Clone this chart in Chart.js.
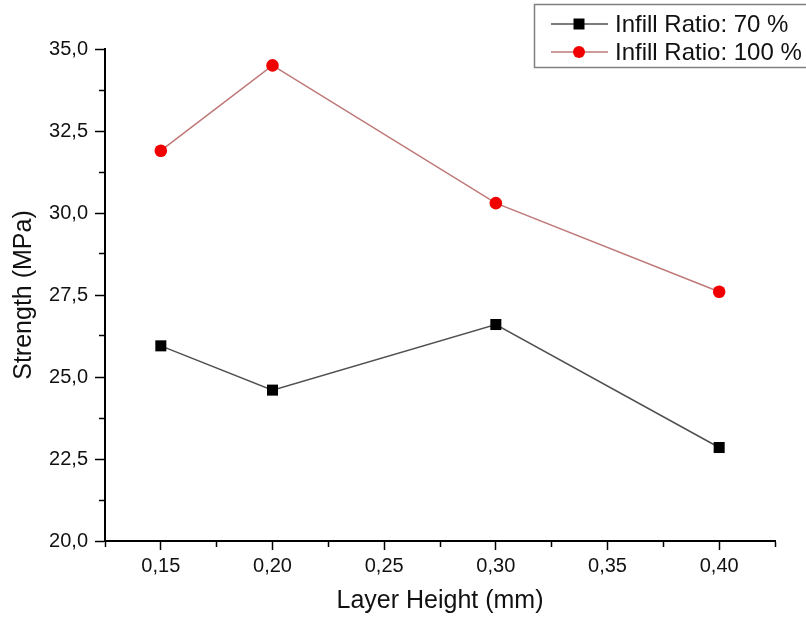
<!DOCTYPE html>
<html>
<head>
<meta charset="utf-8">
<script src="https://cdn.jsdelivr.net/npm/chart.js@4"></script>
<style>
  body { margin: 0; background: #fff; }
  #wrap { width: 806px; height: 619px; }
</style>
</head>
<body>
<div id="wrap"><canvas id="strengthChart" width="806" height="619"></canvas></div>
<script>
// valores
const layerHeights = [0.15, 0.20, 0.30, 0.40];
const infill70 = [25.95, 24.6, 26.6, 22.85];
const infill100 = [31.9, 34.5, 30.3, 27.6];
const seriesLabels = ['Infill Ratio: 70 %', 'Infill Ratio: 100 %'];
const xTickLabels = ['0,15', '0,20', '0,25', '0,30', '0,35', '0,40'];
const yTickLabels = ['20,0', '22,5', '25,0', '27,5', '30,0', '32,5', '35,0'];

const FONT = '"Liberation Sans", Arial, sans-serif';

function toPoints(values) {
    return values.map((v, i) => ({ x: layerHeights[i], y: v }));
}

function isMajor(value, step) {
    return Math.abs(value / step - Math.round(value / step)) < 1e-6;
}

// leyenda con recuadro, como en Origin
const boxLegend = {
    id: 'boxLegend',
    afterDraw(chart) {
        const ctx = chart.ctx;
        ctx.save();
        ctx.strokeStyle = '#808080';
        ctx.lineWidth = 1.5;
        ctx.strokeRect(534.5, 4.5, 290, 63);
        chart.data.datasets.forEach((ds, i) => {
            const y = 24 + i * 28;
            ctx.strokeStyle = ds.borderColor;
            ctx.lineWidth = 1.5;
            ctx.beginPath();
            ctx.moveTo(551, y);
            ctx.lineTo(608, y);
            ctx.stroke();
            ctx.fillStyle = ds.pointBackgroundColor;
            ctx.beginPath();
            if (ds.pointStyle === 'rect') {
                ctx.rect(579 - 5.5, y - 5.5, 11, 11);
            } else {
                ctx.arc(579, y, 6, 0, Math.PI * 2);
            }
            ctx.fill();
            ctx.fillStyle = '#111';
            ctx.font = '24px ' + FONT;
            ctx.textBaseline = 'middle';
            ctx.fillText(ds.label, 615, y + 1);
        });
        ctx.restore();
    }
};

const ctx = document.getElementById('strengthChart').getContext('2d');
new Chart(ctx, {
    type: 'line',
    data: {
        datasets: [{
            label: seriesLabels[0],
            data: toPoints(infill70),
            borderColor: '#505050',
            borderWidth: 1.5,
            pointStyle: 'rect',
            pointRadius: 7.8,
            pointBackgroundColor: '#000',
            pointBorderColor: '#000',
            pointBorderWidth: 0,
            tension: 0
        }, {
            label: seriesLabels[1],
            data: toPoints(infill100),
            borderColor: '#bf7878',
            borderWidth: 1.5,
            pointStyle: 'circle',
            pointRadius: 6.3,
            pointBackgroundColor: '#f00000',
            pointBorderColor: '#e00000',
            pointBorderWidth: 0,
            tension: 0
        }]
    },
    options: {
        responsive: false,
        animation: false,
        layout: { padding: { top: 49, right: 31, left: 0, bottom: 0 } },
        plugins: {
            legend: { display: false },
            tooltip: { enabled: false }
        },
        scales: {
            x: {
                type: 'linear',
                min: 0.125,
                max: 0.425,
                afterFit: scale => { scale.height = 78; },
                border: { display: true, color: '#000', width: 2 },
                grid: {
                    drawOnChartArea: false,
                    drawTicks: true,
                    tickLength: 9,
                    tickColor: '#000',
                    tickWidth: 1.5,
                    tickBorderDash: c => isMajor(c.tick.value, 0.05) ? [] : [5, 100]
                },
                ticks: {
                    stepSize: 0.025,
                    padding: 4,
                    color: '#111',
                    font: { family: FONT, size: 20 },
                    maxRotation: 0,
                    autoSkip: false,
                    callback: v => isMajor(v, 0.05) ? xTickLabels[Math.round((v - 0.15) / 0.05)] : ''
                },
                title: {
                    display: true,
                    text: 'Layer Height (mm)',
                    color: '#111',
                    font: { family: FONT, size: 25 },
                    padding: { top: 0, bottom: 3 }
                }
            },
            y: {
                min: 20,
                max: 35,
                afterFit: scale => { scale.width = 105; },
                border: { display: true, color: '#000', width: 2 },
                grid: {
                    drawOnChartArea: false,
                    drawTicks: true,
                    tickLength: 10,
                    tickColor: '#000',
                    tickWidth: 1.5,
                    tickBorderDash: c => isMajor(c.tick.value, 2.5) ? [] : [6, 100],
                    tickBorderDashOffset: c => isMajor(c.tick.value, 2.5) ? 0 : -4
                },
                ticks: {
                    stepSize: 1.25,
                    padding: 7,
                    color: '#111',
                    font: { family: FONT, size: 20 },
                    autoSkip: false,
                    callback: v => isMajor(v, 2.5) ? yTickLabels[Math.round((v - 20) / 2.5)] : ''
                },
                title: {
                    display: true,
                    text: 'Strength (MPa)',
                    color: '#111',
                    font: { family: FONT, size: 25 },
                    padding: { top: 9, bottom: 0 }
                }
            }
        }
    },
    plugins: [boxLegend]
});
</script>
</body>
</html>
